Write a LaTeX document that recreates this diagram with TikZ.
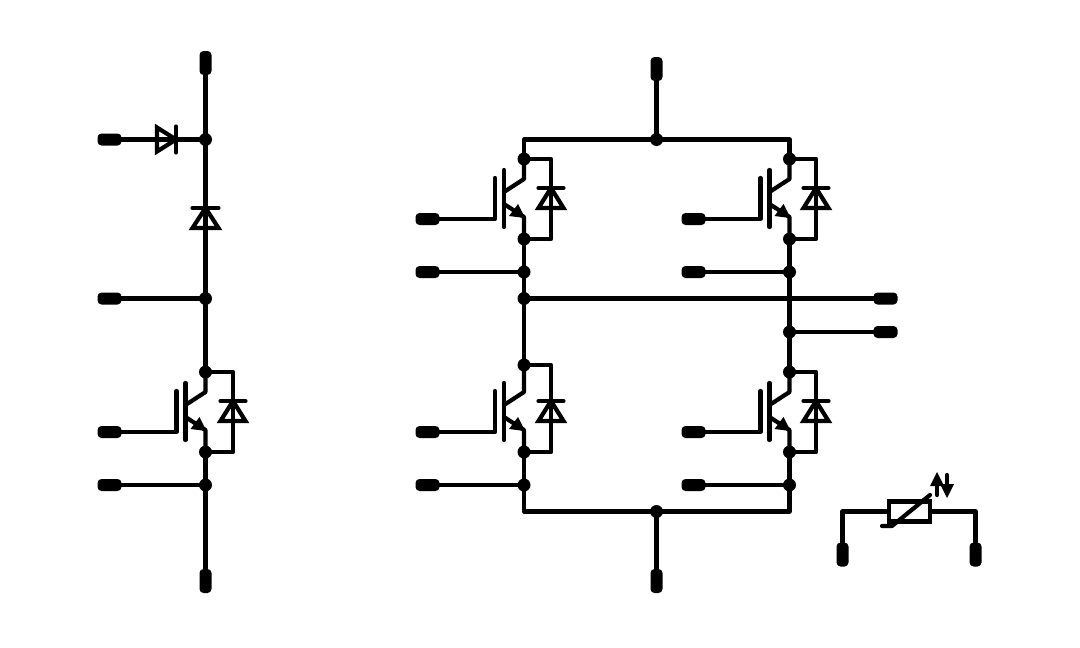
\documentclass[tikz,border=0pt]{standalone}
\usetikzlibrary{calc}
\tikzset{
  wire/.style={line width=4.2pt,line cap=round,line join=round,draw=black},
  dot/.style={circle,fill=black,draw=none,inner sep=0pt,minimum size=13pt},
  padh/.style={rectangle,rounded corners=4pt,fill=black,draw=none,inner sep=0pt,minimum width=24pt,minimum height=12pt},
  padv/.style={rectangle,rounded corners=4pt,fill=black,draw=none,inner sep=0pt,minimum width=12pt,minimum height=24pt},
  sym/.style={line width=4.2pt,line cap=round,line join=miter,draw=black},
  solid tip/.style={fill=black,draw=none},
  resbox/.style={rectangle,draw=black,fill=white,line width=4.2pt,inner sep=0pt,minimum width=41pt,minimum height=20pt}
}
% #1 name, #2 x of collector/emitter line, #3 y of top junction, #4 y of bottom junction,
% #5 y of gate line, #6 x of gate pad, #7 x of diode loop
\newcommand{\igbtcell}[7]{%
  \node[dot] (#1top) at (#2,#3) {};
  \node[dot] (#1bot) at (#2,#4) {};
  \coordinate (#1cb) at (#2,#5-40);
  \coordinate (#1eb) at (#2,#5-2);
  \coordinate (#1cq) at (#2-20,#5-27);
  \coordinate (#1eq) at (#2-20,#5-15);
  \coordinate (#1bara) at (#2-20,#5-49);
  \coordinate (#1barb) at (#2-20,#5+8);
  \coordinate (#1ga) at (#2-29,#5-41);
  \coordinate (#1gb) at (#2-29,#5);
  \node[padh] (#1pad) at (#6,#5) {};
  \coordinate (#1tr) at (#7,#3);
  \coordinate (#1br) at (#7,#4);
  \coordinate (#1dbar) at (#7,#5-31);
  \coordinate (#1dbase) at (#7,#5-11);
  \draw[wire] (#1top.center) -- (#1cb) -- (#1cq);
  \draw[wire] (#1bara) -- (#1barb);
  \draw[wire] (#1pad.center) -- (#1gb) -- (#1ga);
  \draw[wire] (#1eq) -- (#1eb) -- (#1bot.center);
  \fill[solid tip] ($(#1eb)+(1,1)$) -- ($(#1eb)+(-6,-13)$) -- ($(#1eb)+(-15,-1)$) -- cycle;
  \draw[wire] (#1top.center) -- (#1tr) -- (#1br) -- (#1bot.center);
  \draw[sym] ($(#1dbar)+(-12.5,0)$) -- ($(#1dbar)+(12.5,0)$);
  \draw[sym] (#1dbar) -- ($(#1dbase)+(-12.5,0)$) -- ($(#1dbase)+(12.5,0)$) -- cycle;
}
\begin{document}
\begin{tikzpicture}[x=1pt,y=-1pt]
\useasboundingbox[fill=white] (0,0) rectangle (1080,648);
% left leg
\node[padv] (Ltop) at (205.5,63) {};
\node[padv] (Lbot) at (205.5,581) {};
\node[dot] (Lj1) at (205.5,139.5) {};
\node[dot] (Lj2) at (205.5,298.5) {};
\node[dot] (Lj3) at (205.5,485) {};
\node[padh] (Lp1) at (109.5,139.5) {};
\node[padh] (Lp2) at (109.5,298.5) {};
\node[padh] (Lp3) at (109.5,485) {};
\igbtcell{QA}{205.5}{372}{452}{432}{109.5}{233}
\draw[wire] (Ltop.center) -- (Lj1.center) -- (Lj2.center) -- (QAtop.center);
\draw[wire] (QAbot.center) -- (Lj3.center) -- (Lbot.center);
\draw[wire] (Lp1.center) -- (Lj1.center);
\draw[wire] (Lp2.center) -- (Lj2.center);
\draw[wire] (Lp3.center) -- (Lj3.center);
% series diode, horizontal
\draw[sym] (157,127.5) -- (176,139.5) -- (157,151.5) -- cycle;
\draw[sym] (176,126.5) -- (176,152.5);
% series diode, vertical
\draw[sym] (192.5,208) -- (218.5,208);
\draw[sym] (205.5,208) -- (192.5,228) -- (218.5,228) -- cycle;
% bridge
\igbtcell{QB}{524}{159}{239}{219}{427.5}{551}
\igbtcell{QC}{789.5}{159}{239}{219}{693.5}{816}
\igbtcell{QD}{524}{365}{452}{432}{427.5}{551}
\igbtcell{QE}{789.5}{372}{452}{432}{693.5}{816}
\node[padv] (Tpad) at (656.5,69) {};
\node[dot] (Tj) at (656.5,139.5) {};
\node[padv] (Bpad) at (656.5,581) {};
\node[dot] (Bj) at (656.5,511.5) {};
\node[dot] (Bj1) at (524,272) {};
\node[dot] (Bj2) at (524,298.5) {};
\node[dot] (Bj3) at (524,485) {};
\node[dot] (Cj1) at (789.5,272) {};
\node[dot] (Cj2) at (789.5,332) {};
\node[dot] (Cj3) at (789.5,485) {};
\node[padh] (Bp1) at (427.5,272) {};
\node[padh] (Bp3) at (427.5,485) {};
\node[padh] (Cp1) at (693.5,272) {};
\node[padh] (Cp3) at (693.5,485) {};
\node[padh] (Op1) at (885.5,298.5) {};
\node[padh] (Op2) at (885.5,332) {};
\draw[wire] (QBtop.center) -- (524,139.5) -- (Tj.center) -- (789.5,139.5) -- (QCtop.center);
\draw[wire] (Tpad.center) -- (Tj.center);
\draw[wire] (QDbot.center) -- (Bj3.center) -- (524,511.5) -- (Bj.center) -- (789.5,511.5) -- (Cj3.center) -- (QEbot.center);
\draw[wire] (Bpad.center) -- (Bj.center);
\draw[wire] (QBbot.center) -- (Bj1.center) -- (Bj2.center) -- (QDtop.center);
\draw[wire] (QCbot.center) -- (Cj1.center) -- (Cj2.center) -- (QEtop.center);
\draw[wire] (Bp1.center) -- (Bj1.center);
\draw[wire] (Bp3.center) -- (Bj3.center);
\draw[wire] (Cp1.center) -- (Cj1.center);
\draw[wire] (Cp3.center) -- (Cj3.center);
\draw[wire] (Bj2.center) -- (Op1.center);
\draw[wire] (Cj2.center) -- (Op2.center);
% thermistor
\node[padv] (Rp1) at (842.5,554.5) {};
\node[padv] (Rp2) at (975.5,554.5) {};
\node[resbox] (Rth) at (909.5,511.5) {};
\draw[wire] (Rp1.center) -- (842.5,511.5) -- (Rth.west);
\draw[wire] (Rp2.center) -- (975.5,511.5) -- (Rth.east);
\draw[wire] (882,526) -- (892,526) -- (930,495);
\draw[wire] (937,495) -- (937,483);
\fill[solid tip] (930,486) -- (944,486) -- (937,472) -- cycle;
\draw[wire] (947,475) -- (947,487);
\fill[solid tip] (940,484) -- (954,484) -- (947,498) -- cycle;
\end{tikzpicture}
\end{document}
